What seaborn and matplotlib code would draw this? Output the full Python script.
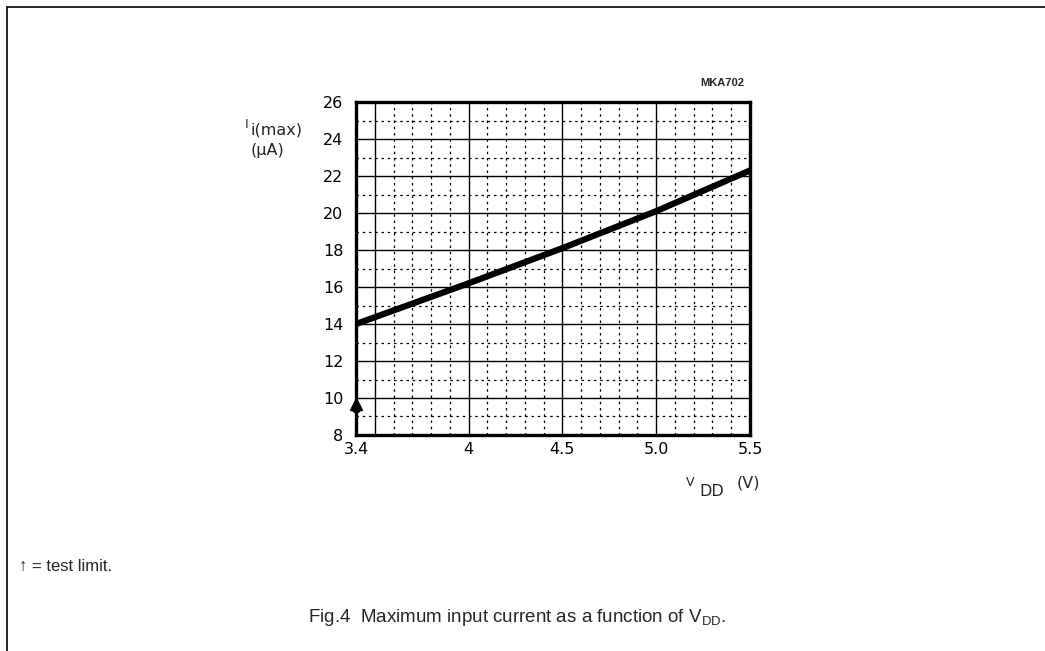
import matplotlib
matplotlib.use("Agg")
import matplotlib.pyplot as plt
import seaborn as sns
import pandas as pd
from matplotlib.ticker import FixedLocator
from matplotlib.lines import Line2D

# data
vdd = [3.4, 4.0, 4.5, 5.0, 5.5]
i_max = [14.0, 16.2, 18.1, 20.1, 22.3]
test_limit_v = [3.4]
test_limit_i = [9.7]
x_ticks = [3.4, 4.0, 4.5, 5.0, 5.5]
x_tick_labels = ["3.4", "4", "4.5", "5.0", "5.5"]
y_ticks = [8, 10, 12, 14, 16, 18, 20, 22, 24, 26]

sns.set_style("white")
plt.rcParams['font.family'] = ['DejaVu Sans']

fig = plt.figure(figsize=(10.45, 6.51), dpi=100)
ax = fig.add_axes([0.3407, 0.3318, 0.3770, 0.5115])

df = pd.DataFrame({"V": vdd, "I": i_max})
sns.lineplot(data=df, x="V", y="I", ax=ax, color="black", linewidth=4.5,
             solid_capstyle="round", zorder=5)

# test limit arrow
ax.plot(test_limit_v, test_limit_i, marker="^", markersize=9, color="black",
        linestyle="none", zorder=6, clip_on=False)
ax.plot(test_limit_v, [test_limit_i[0] - 0.25], marker="o", markersize=6,
        color="black", linestyle="none", zorder=6, clip_on=False)

ax.set_xlim(3.4, 5.5)
ax.set_ylim(8, 26)
ax.xaxis.set_major_locator(FixedLocator(x_ticks))
ax.set_xticklabels(x_tick_labels)
ax.yaxis.set_major_locator(FixedLocator(y_ticks))
ax.set_yticklabels([str(v) for v in y_ticks])

# grids
majors = [3.5, 4.0, 4.5, 5.0]
for xv in majors:
    ax.axvline(xv, color="black", linewidth=1.0, zorder=1)
for yv in y_ticks[1:-1]:
    ax.axhline(yv, color="black", linewidth=1.0, zorder=1)
xm = [3.4 + 0.1 * k for k in range(1, 21)]
for xv in xm:
    if min(abs(xv - m) for m in majors) > 1e-6:
        ax.axvline(xv, color="black", linewidth=0.9, linestyle=(0, (2, 3)), zorder=1)
for yv in range(9, 26, 2):
    ax.axhline(yv, color="black", linewidth=0.9, linestyle=(0, (2, 3)), zorder=1)

for s in ax.spines.values():
    s.set_linewidth(2.4)
    s.set_color("black")
ax.tick_params(axis="both", length=0, labelsize=11.5, colors="black")
ax.tick_params(axis="y", pad=9)
ax.tick_params(axis="x", pad=5)
ax.set_xlabel("")
ax.set_ylabel("")

W, H = 1045, 651
def fx(px):
    return px / W
def fy(py):
    return 1 - py / H

# y label
fig.text(fx(245), fy(124), "I", fontsize=9, ha="left", va="center")
fig.text(fx(251), fy(130), "i(max)", fontsize=11.5, ha="left", va="center")
fig.text(fx(251), fy(151), "(µA)", fontsize=11.5, ha="left", va="center")

# x label
fig.text(fx(686), fy(482), "V", fontsize=9, ha="left", va="center")
fig.text(fx(699), fy(491), "DD", fontsize=11.5, ha="left", va="center")
fig.text(fx(737), fy(483), "(V)", fontsize=11.5, ha="left", va="center")

fig.text(fx(744), fy(83), "MKA702", fontsize=8, fontweight="bold",
         ha="right", va="center", family="Liberation Sans")

fig.text(fx(19), fy(566), "↑ = test limit.", fontsize=12, ha="left",
         va="center", family=["Liberation Sans", "DejaVu Sans"])
fig.text(fx(517), fy(618),
         r"Fig.4  Maximum input current as a function of V$\mathregular{_{DD}}$.",
         fontsize=13.5, ha="center", va="center", family="Liberation Sans")

# page border (top and left)
fig.add_artist(Line2D([fx(7), 1.0], [fy(7), fy(7)],
                      transform=fig.transFigure, color="black", linewidth=1.2))
fig.add_artist(Line2D([fx(7), fx(7)], [0.0, fy(7)],
                      transform=fig.transFigure, color="black", linewidth=1.2))

fig.savefig("out.png", dpi=100)
